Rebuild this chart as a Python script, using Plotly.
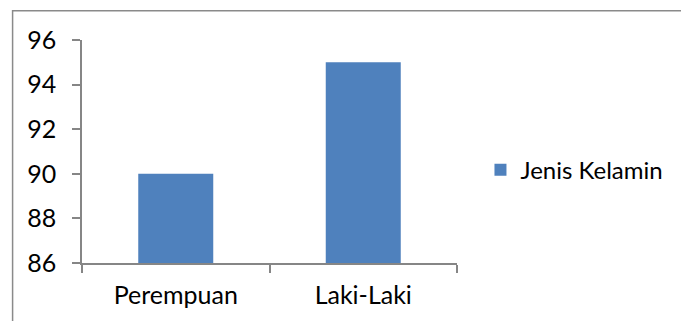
import plotly.graph_objects as go

categories = ["Perempuan", "Laki-Laki"]
values = [90, 95]
series_name = "Jenis Kelamin"
y_ticks = [86, 88, 90, 92, 94, 96]

W, H = 681, 321
L, R, T, B = 82, 681 - 457.5, 40, 321 - 262.7
pw, ph = W - L - R, H - T - B

def px_x(x):
    return (x - L) / pw

def px_y(y):
    return (H - B - y) / ph

FONT = "Lato"
FS = 25
axis_col = "#868686"

fig = go.Figure(go.Bar(
    x=categories, y=values, name=series_name,
    marker=dict(color="#4F81BD", line=dict(width=0)),
    width=0.4, showlegend=True,
))

fig.update_layout(
    width=W, height=H,
    margin=dict(l=L, r=R, t=T, b=B, autoexpand=False),
    paper_bgcolor="white", plot_bgcolor="white",
    font=dict(family=FONT, size=FS, color="#000000"),
    showlegend=True,
    legend=dict(x=px_x(481), y=px_y(170), xanchor="left", yanchor="middle",
                font=dict(family=FONT, size=24, color="#000000"),
                bgcolor="rgba(0,0,0,0)", itemwidth=30),
    xaxis=dict(type="category", showgrid=False, showline=True, linecolor=axis_col,
               linewidth=1.5, ticks="outside", tickson="boundaries", ticklen=8,
               tickcolor=axis_col, tickwidth=1.5, ticklabelstandoff=9),
    yaxis=dict(range=[86, 96], tickvals=y_ticks, showgrid=False, showline=True,
               linecolor=axis_col, linewidth=1.5, ticks="outside", ticklen=8,
               tickcolor=axis_col, tickwidth=1.5, zeroline=False,
               ticklabelstandoff=11),
    shapes=[dict(type="rect", xref="paper", yref="paper",
                 x0=px_x(12.5), x1=px_x(900), y0=px_y(500), y1=px_y(10.7),
                 line=dict(color="#8a8a8a", width=1.5), layer="above")],
)

fig.write_html("out.html")
